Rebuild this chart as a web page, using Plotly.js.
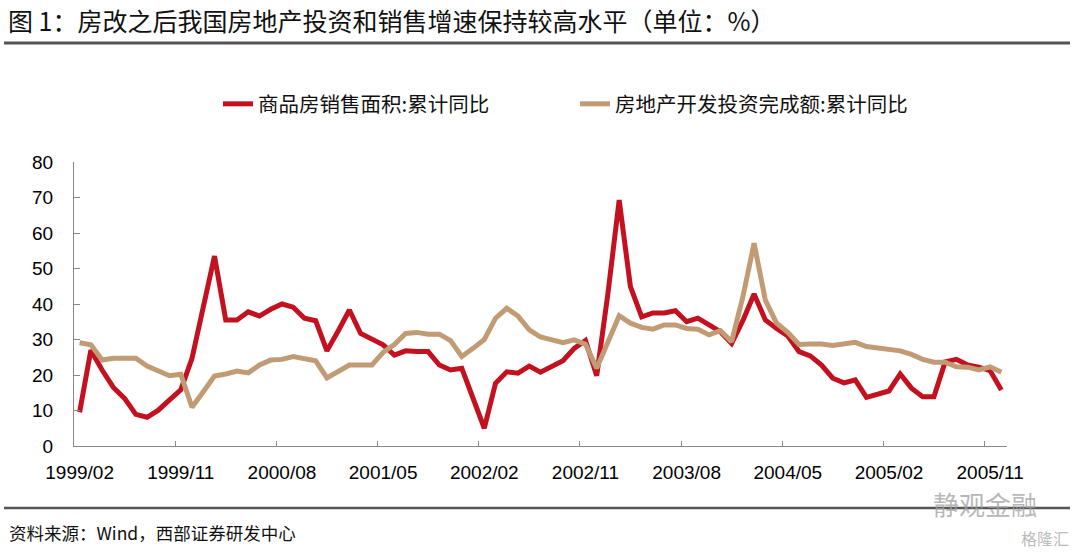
<!DOCTYPE html>
<html><head><meta charset="utf-8">
<script src="https://cdn.plot.ly/plotly-3.0.1.min.js"></script>
<style>html,body{margin:0;padding:0;background:#fff}#chart{width:1080px;height:553px}</style>
</head><body><div id="chart"></div>
<script>
// Monthly data, 1999/02 - 2005/12 (83 months)
const tickLabels = ['1999/02','1999/11','2000/08','2001/05','2002/02','2002/11','2003/08','2004/05','2005/02','2005/11'];
const tickIndex = [0, 9, 18, 27, 36, 45, 54, 63, 72, 81];
const boundaryTicks = [8.5, 17.5, 26.5, 35.5, 44.5, 53.5, 62.5, 71.5, 80.5];

const salesArea = [
  9.5, 27.0, 21.4, 16.5, 13.4, 8.9, 8.1, 10.1, 13.0, 15.8,
  24.7, 39.4, 53.5, 35.5, 35.5, 37.8, 36.6, 38.5, 40.0, 39.1,
  36.0, 35.3, 26.8, 32.4, 38.3, 31.7, 30.0, 28.5, 25.6, 26.8,
  26.6, 26.6, 22.8, 21.4, 21.9, 13.4, 5.0, 17.7, 20.9, 20.5,
  22.5, 20.8, 22.3, 24.0, 27.5, 29.7, 19.8, 43.0, 69.3, 44.9,
  36.4, 37.5, 37.5, 38.1, 35.0, 36.0, 34.1, 32.2, 28.9, 35.3,
  42.8, 35.5, 33.1, 31.0, 26.6, 25.4, 22.8, 19.1, 17.8, 18.6,
  13.7, 14.6, 15.5, 20.3, 16.3, 13.9, 13.9, 23.7, 24.4, 22.8,
  22.2, 21.2, 15.8
];
const investment = [
  29.1, 28.5, 24.2, 24.7, 24.7, 24.7, 22.5, 21.2, 19.8, 20.2,
  10.9, 15.3, 19.7, 20.3, 21.1, 20.6, 22.8, 24.2, 24.4, 25.2,
  24.7, 24.0, 19.2, 21.2, 22.8, 22.8, 22.8, 26.4, 28.6, 31.7,
  32.0, 31.5, 31.5, 29.7, 25.2, 27.5, 30.0, 36.0, 38.8, 36.6,
  32.7, 30.7, 29.9, 29.1, 29.9, 28.7, 21.9, 29.2, 36.7, 34.6,
  33.4, 32.9, 34.1, 34.1, 33.1, 32.9, 31.3, 32.5, 29.4, 42.0,
  57.1, 41.1, 34.6, 32.0, 28.6, 28.7, 28.7, 28.3, 28.9, 29.2,
  28.0, 27.5, 27.0, 26.8, 25.8, 24.4, 23.6, 23.6, 22.3, 22.2,
  21.4, 22.3, 20.8
];
const seriesNames = ['商品房销售面积:累计同比', '房地产开发投资完成额:累计同比'];
const seriesColors = ['#C3111F', '#C09B74'];

const idx = salesArea.map((_, i) => i);
const CJK = 'Noto Sans CJK SC, sans-serif';
const LAT = 'Liberation Sans, Arial, sans-serif';

const traces = [
  {x: idx, y: salesArea, name: seriesNames[0], type: 'scatter', mode: 'lines',
   line: {color: seriesColors[0], width: 5, shape: 'linear'}},
  {x: idx, y: investment, name: seriesNames[1], type: 'scatter', mode: 'lines',
   line: {color: seriesColors[1], width: 5, shape: 'linear'}}
];

const layout = {
  width: 1080, height: 553,
  margin: {l: 74, r: 73, t: 162, b: 107},
  paper_bgcolor: '#fff', plot_bgcolor: '#fff',
  title: {
    text: '图 1：房改之后我国房地产投资和销售增速保持较高水平（单位：%）',
    x: 8/1080, xanchor: 'left', xref: 'container',
    y: 1 - 22/553, yanchor: 'middle', yref: 'container',
    font: {family: CJK, size: 25, color: '#111'}
  },
  showlegend: true,
  legend: {
    orientation: 'h', x: (218-74)/933, xanchor: 'left', y: (446-104)/284, yanchor: 'middle',
    font: {family: CJK, size: 20.5, color: '#111'},
    entrywidth: 312, entrywidthmode: 'pixels', bgcolor: 'rgba(0,0,0,0)'
  },
  xaxis: {
    range: [-0.5, 82.5], tickmode: 'array', tickvals: tickIndex, ticktext: tickLabels,
    ticks: '', showline: true, linecolor: '#888', linewidth: 1,
    showgrid: false, zeroline: false, fixedrange: true,
    tickfont: {family: LAT, size: 19, color: '#000'}, ticklabelstandoff: 9,
    minor: {tickmode: 'array', tickvals: boundaryTicks, ticks: 'inside', ticklen: 5, tickcolor: '#888', showgrid: false}
  },
  yaxis: {
    range: [0, 80], tickmode: 'linear', tick0: 0, dtick: 10,
    ticks: 'inside', ticklen: 6, tickcolor: '#888',
    showline: true, linecolor: '#888', linewidth: 1,
    showgrid: false, zeroline: false, fixedrange: true,
    tickfont: {family: LAT, size: 19, color: '#000'}, ticklabelstandoff: 16
  },
  shapes: [
    {type: 'line', xref: 'paper', yref: 'paper', x0: (4-74)/933, x1: (1070-74)/933,
     y0: (446-43)/284, y1: (446-43)/284, line: {color: '#555', width: 3}},
    {type: 'line', xref: 'paper', yref: 'paper', x0: (4-74)/933, x1: (1070-74)/933,
     y0: (446-508)/284, y1: (446-508)/284, line: {color: '#555', width: 2.5}}
  ],
  annotations: [
    {text: '资料来源：Wind，西部证券研发中心', xref: 'paper', yref: 'paper',
     x: (7-74)/933, y: (446-532)/284, xanchor: 'left', yanchor: 'middle', showarrow: false,
     font: {family: CJK, size: 17.5, color: '#111'}},
    {text: '静观金融', xref: 'paper', yref: 'paper',
     x: (985-74)/933, y: (446-503)/284, xanchor: 'center', yanchor: 'middle', showarrow: false,
     font: {family: CJK, size: 26, color: 'rgba(160,160,160,0.75)'}},
    {text: '格隆汇', xref: 'paper', yref: 'paper',
     x: (1045-74)/933, y: (446-538)/284, xanchor: 'center', yanchor: 'middle', showarrow: false,
     font: {family: CJK, size: 16, color: 'rgba(170,170,170,0.8)'}}
  ]
};

Plotly.newPlot('chart', traces, layout, {staticPlot: true, displayModeBar: false});
</script>
</body></html>
